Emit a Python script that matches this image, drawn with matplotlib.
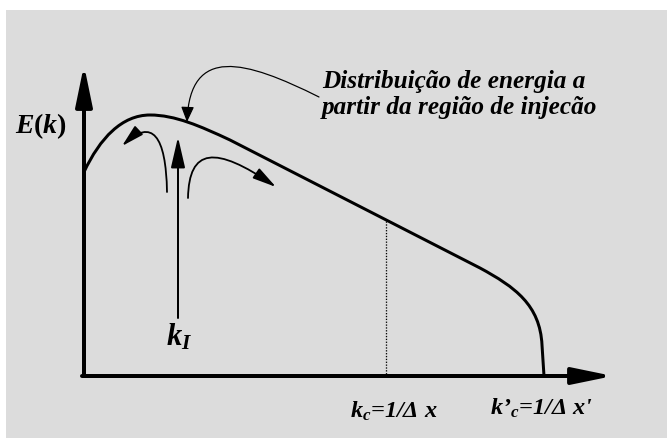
import matplotlib
matplotlib.use("Agg")
import matplotlib.pyplot as plt
from matplotlib.patches import FancyArrowPatch, Rectangle, PathPatch
from matplotlib.path import Path

plt.rcParams['font.family'] = ['Liberation Serif', 'DejaVu Serif']
plt.rcParams['mathtext.fontset'] = 'custom'
plt.rcParams['mathtext.it'] = 'Liberation Serif:bold:italic'
plt.rcParams['mathtext.rm'] = 'Liberation Serif:bold:italic'
plt.rcParams['mathtext.bf'] = 'Liberation Serif:bold:italic'

# schematic drawn in pixel space of the 667x438 picture (y goes down)
# energy curve as bezier nodes: rise, peak, straight decay, knee, drop to axis
curve_pts = [(84, 172),
             (100, 138), (122, 115), (150, 115),
             (175, 115), (200, 126), (230, 140),
             (480, 268),
             (515, 287), (540, 305), (542, 345),
             (544, 376)]
curve_codes = [Path.MOVETO,
               Path.CURVE4, Path.CURVE4, Path.CURVE4,
               Path.CURVE4, Path.CURVE4, Path.CURVE4,
               Path.LINETO,
               Path.CURVE4, Path.CURVE4, Path.CURVE4,
               Path.LINETO]

axis_origin = (84, 376)
x_axis_tip = (613, 376)
y_axis_tip = (84, 65)
kc_x = 386
kc_top = 221
kI_x = 178
kI_bottom = 318
kI_tip = 137

# curved arrows (cubic bezier control points)
left_arrow = [(167, 192), (166, 135), (152, 118), (122, 146)]
right_arrow = [(188, 198), (189, 148), (215, 145), (276, 187)]
note_arrow = [(319, 97), (245, 60), (190, 45), (187, 122)]

note_lines = ["Distribuição de energia a", "partir da região de injecão"]
ylabel = r"$E$($k$)"
kI_label = r"$k_I$"
kc_label = r"$k_c$=1/Δ x"
kc2_label = r"$k’_c$=1/Δ x'"

fig = plt.figure(figsize=(6.67, 4.38), dpi=100)
fig.patch.set_facecolor('white')
ax = fig.add_axes([0, 0, 1, 1])
ax.set_xlim(0, 667)
ax.set_ylim(438, 0)
ax.axis('off')

ax.add_patch(Rectangle((6, 10), 661, 428, facecolor='#dcdcdc', edgecolor='none', zorder=0))

PX = 72 / 100  # pixels -> points


def straight(start, tip, lw, hl, hw):
    ax.add_patch(FancyArrowPatch(start, tip, shrinkA=0, shrinkB=0, mutation_scale=1,
                                 arrowstyle=f'-|>,head_length={hl * PX},head_width={hw * PX}',
                                 lw=lw * PX, color='black', zorder=3))


def curved(pts, lw, hl, hw):
    path = Path(pts, [Path.MOVETO, Path.CURVE4, Path.CURVE4, Path.CURVE4])
    ax.add_patch(FancyArrowPatch(path=path, mutation_scale=1,
                                 arrowstyle=f'-|>,head_length={hl * PX},head_width={hw * PX}',
                                 lw=lw * PX, color='black', zorder=3))


# axes
straight(axis_origin, y_axis_tip, 4, 34, 7)
straight((axis_origin[0] - 2, axis_origin[1]), x_axis_tip, 4, 34, 7)

# energy distribution
ax.add_patch(PathPatch(Path(curve_pts, curve_codes), facecolor='none', edgecolor='black',
                       lw=3 * PX, capstyle='butt', zorder=2))

# cutoff
ax.plot([kc_x, kc_x], [kc_top, axis_origin[1]], color='black', lw=1.3 * PX,
        ls=(0, (1, 1.2)), zorder=2)

# injection
straight((kI_x, kI_bottom), (kI_x, kI_tip), 2, 26, 6)
curved(left_arrow, 1.8, 19, 5)
curved(right_arrow, 1.8, 20, 5)
curved(note_arrow, 1.2, 13, 5.5)

bi = dict(fontweight='bold', fontstyle='italic', color='black')
ax.text(322, 88, note_lines[0], fontsize=18.2, **bi)
ax.text(322, 114, note_lines[1], fontsize=18.2, **bi)
ax.text(15, 133, ylabel, fontsize=20, fontweight='bold', color='black')
ax.text(166, 345, kI_label, fontsize=22, **bi)
ax.text(350, 418, kc_label, fontsize=17.5, **bi)
ax.text(490, 415, kc2_label, fontsize=17.5, **bi)

fig.savefig('out.png', dpi=100, facecolor='white')
